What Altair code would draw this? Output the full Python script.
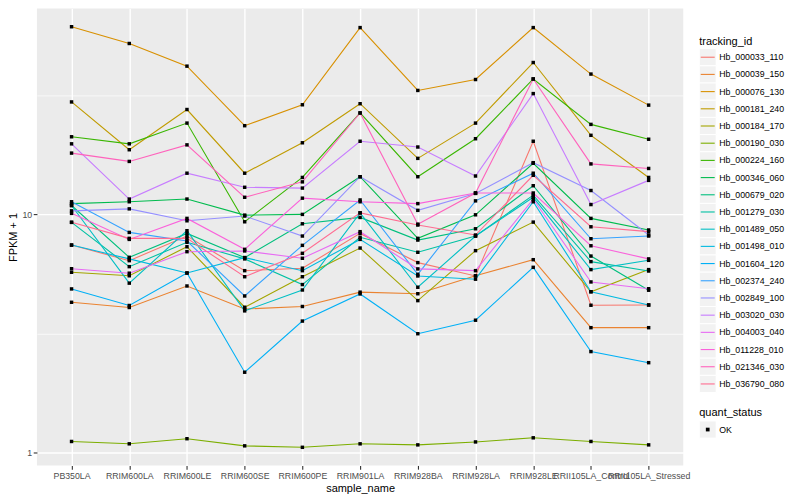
import altair as alt
import pandas as pd

samples = ["PB350LA", "RRIM600LA", "RRIM600LE", "RRIM600SE", "RRIM600PE", "RRIM901LA",
           "RRIM928BA", "RRIM928LA", "RRIM928LE", "RRII105LA_Control", "RRII105LA_Stressed"]

tracking_ids = ["Hb_000033_110", "Hb_000039_150", "Hb_000076_130", "Hb_000181_240",
                "Hb_000184_170", "Hb_000190_030", "Hb_000224_160", "Hb_000346_060",
                "Hb_000679_020", "Hb_001279_030", "Hb_001489_050", "Hb_001498_010",
                "Hb_001604_120", "Hb_002374_240", "Hb_002849_100", "Hb_003020_030",
                "Hb_004003_040", "Hb_011228_010", "Hb_021346_030", "Hb_036790_080"]

palette = ["#F8766D", "#EA8331", "#D89000", "#C09B00", "#A3A500", "#7CAE00", "#39B600",
           "#00BB4E", "#00BF7D", "#00C1A3", "#00BFC4", "#00BAE0", "#00B0F6", "#35A2FF",
           "#9590FF", "#C77CFF", "#E76BF3", "#FA62DB", "#FF62BC", "#FF6C91"]

# FPKM + 1 per sample (same order as samples)
hb_000033_110 = [7.43, 6.39, 8.11, 5.80, 5.94, 8.32, 6.27, 5.51, 20.3, 4.15, 4.16]
hb_000039_150 = [4.27, 4.06, 5.00, 4.00, 4.10, 4.71, 4.64, 5.52, 6.45, 3.34, 3.34]
hb_000076_130 = [61.5, 52.3, 42.0, 23.6, 28.9, 61.0, 33.2, 36.9, 61.0, 38.9, 28.8]
hb_000181_240 = [29.7, 18.7, 27.6, 14.9, 20.0, 29.2, 17.2, 24.2, 43.5, 21.5, 14.3]
hb_000184_170 = [5.71, 5.52, 7.31, 4.07, 5.47, 7.22, 4.34, 7.04, 9.28, 4.73, 5.86]
hb_000190_030 = [1.11, 1.085, 1.14, 1.064, 1.049, 1.085, 1.074, 1.105, 1.15, 1.11, 1.074]
hb_000224_160 = [21.2, 19.8, 24.2, 9.31, 14.3, 26.7, 14.4, 20.8, 37.1, 23.9, 20.7]
hb_000346_060 = [11.1, 11.3, 11.6, 9.93, 10.0, 14.4, 7.93, 9.96, 16.4, 9.62, 8.60]
hb_000679_020 = [10.9, 6.60, 8.32, 6.58, 9.13, 9.71, 7.80, 8.70, 13.2, 6.68, 4.80]
hb_001279_030 = [9.26, 6.03, 7.63, 6.50, 5.07, 8.01, 6.93, 8.11, 12.05, 6.33, 5.78]
hb_001489_050 = [10.9, 5.14, 8.54, 3.93, 4.81, 10.15, 4.94, 8.11, 11.8, 5.86, 6.41]
hb_001498_010 = [7.43, 6.50, 5.67, 6.58, 5.80, 7.85, 5.51, 5.34, 11.3, 4.73, 4.16]
hb_001604_120 = [4.86, 4.14, 5.67, 2.17, 3.56, 4.63, 3.15, 3.59, 5.99, 2.65, 2.38]
hb_002374_240 = [11.3, 8.40, 7.73, 4.54, 7.41, 11.5, 5.60, 11.4, 14.9, 7.90, 8.11]
hb_002849_100 = [10.35, 10.55, 9.40, 9.84, 8.11, 14.4, 10.4, 12.25, 16.5, 12.6, 8.19]
hb_003020_030 = [19.8, 11.6, 14.9, 13.0, 12.9, 20.3, 19.2, 14.5, 32.2, 11.0, 13.9]
hb_004003_040 = [5.91, 5.66, 6.97, 7.02, 6.54, 8.46, 5.90, 5.80, 11.6, 5.20, 4.87]
hb_011228_010 = [10.1, 7.85, 9.62, 7.13, 11.7, 11.3, 11.1, 12.3, 12.3, 7.38, 6.50]
hb_021346_030 = [18.1, 16.7, 19.6, 11.8, 13.7, 26.7, 9.1, 12.3, 37.1, 16.3, 15.6]
hb_036790_080 = [9.26, 7.93, 7.93, 5.47, 6.86, 10.15, 9.02, 8.19, 14.6, 8.87, 8.46]

series = [hb_000033_110, hb_000039_150, hb_000076_130, hb_000181_240, hb_000184_170,
          hb_000190_030, hb_000224_160, hb_000346_060, hb_000679_020, hb_001279_030,
          hb_001489_050, hb_001498_010, hb_001604_120, hb_002374_240, hb_002849_100,
          hb_003020_030, hb_004003_040, hb_011228_010, hb_021346_030, hb_036790_080]

quant_status = ["OK"]

rows = []
for tid, vals in zip(tracking_ids, series):
    for i, (s, v) in enumerate(zip(samples, vals)):
        rows.append({"tracking_id": tid, "sample_name": s, "sample_index": i,
                     "fpkm": v, "quant_status": quant_status[0]})
df = pd.DataFrame(rows)

color_scale = alt.Scale(domain=tracking_ids, range=palette)

cond_major = "datum.value == 1 || datum.value == 10"

x_enc = alt.X(
    "sample_name:N", sort=samples,
    scale=alt.Scale(type="point", domain=samples, padding=0.6),
    axis=alt.Axis(title="sample_name", labelAngle=0, labelOverlap=False, domain=False,
                  grid=True, gridColor="white", gridWidth=1.4,
                  tickColor="#333333", tickSize=3.7, tickWidth=1.1,
                  labelColor="#4D4D4D", labelFontSize=8.8, labelPadding=2,
                  titleFontSize=11, titleColor="black", titleFontWeight="normal",
                  titlePadding=3),
)
y_enc = alt.Y(
    "fpkm:Q",
    scale=alt.Scale(type="log", domain=[0.88, 73.3], nice=False),
    axis=alt.Axis(title="FPKM + 1", values=[1, 3.1623, 10, 31.623],
                  labelExpr="datum.value == 1 ? '1' : (datum.value == 10 ? '10' : '')",
                  domain=False, grid=True, gridColor="white",
                  gridWidth={"condition": {"test": cond_major, "value": 1.4}, "value": 0.7},
                  tickOpacity={"condition": {"test": cond_major, "value": 1}, "value": 0},
                  tickColor="#333333", tickSize=3.7, tickWidth=1.1,
                  labelColor="#4D4D4D", labelFontSize=8.8, labelPadding=1.5,
                  titleFontSize=11, titleColor="black", titleFontWeight="normal",
                  titlePadding=3),
)

base = alt.Chart(df)
lines = base.mark_line(strokeWidth=1.1).encode(
    x=x_enc, y=y_enc,
    color=alt.Color("tracking_id:N", scale=color_scale, legend=None),
    order="sample_index:Q",
)
points = base.mark_square(size=12, color="black", opacity=1).encode(x=x_enc, y=y_enc)

main = alt.layer(lines, points).properties(
    width=648, height=458,
    view=alt.ViewBackground(fill="#EBEBEB", strokeWidth=0),
)

# ---- hand-drawn ggplot-style legend ----
leg_df = pd.DataFrame({"tracking_id": tracking_ids})
ly = alt.Y("tracking_id:N", sort=tracking_ids,
           scale=alt.Scale(domain=tracking_ids, range=[40.1, 384.9],
                           paddingInner=0, paddingOuter=0),
           axis=None)

leg_title = alt.Chart(pd.DataFrame({"t": ["tracking_id"]})).mark_text(
    align="left", baseline="alphabetic", fontSize=11, color="black"
).encode(x=alt.value(7), y=alt.value(36), text="t:N")

keys = alt.Chart(leg_df).mark_rect(fill="#F2F2F2", stroke="white", strokeWidth=1).encode(
    y=ly, x=alt.value(7), x2=alt.value(24))
key_lines = alt.Chart(leg_df).mark_rule(strokeWidth=1.1).encode(
    y=ly, x=alt.value(8.5), x2=alt.value(22.5),
    color=alt.Color("tracking_id:N", scale=color_scale, legend=None))
key_labels = alt.Chart(leg_df).mark_text(
    align="left", baseline="middle", fontSize=8.8, color="black"
).encode(y=ly, x=alt.value(27), text="tracking_id:N")

st_df = pd.DataFrame({"quant_status": quant_status})
st_title = alt.Chart(pd.DataFrame({"t": ["quant_status"]})).mark_text(
    align="left", baseline="alphabetic", fontSize=11, color="black"
).encode(x=alt.value(7), y=alt.value(408), text="t:N")
st_key = alt.Chart(st_df).mark_rect(fill="#F2F2F2", stroke="white", strokeWidth=1).encode(
    x=alt.value(7), x2=alt.value(24), y=alt.value(413.4), y2=alt.value(430.6))
st_point = alt.Chart(st_df).mark_square(size=14, color="black", opacity=1).encode(
    x=alt.value(15.5), y=alt.value(422))
st_label = alt.Chart(st_df).mark_text(
    align="left", baseline="middle", fontSize=8.8, color="black"
).encode(x=alt.value(27), y=alt.value(422), text="quant_status:N")

legend = alt.layer(leg_title, keys, key_lines, key_labels,
                   st_title, st_key, st_point, st_label).properties(width=100, height=458)

chart = alt.hconcat(main, legend, spacing=2).properties(
    padding={"left": 0, "top": 0, "right": 0, "bottom": 0}
).configure(font="Liberation Sans").configure_view(strokeWidth=0)

chart.save("out.html", embed_options={"renderer": "svg", "actions": False})
